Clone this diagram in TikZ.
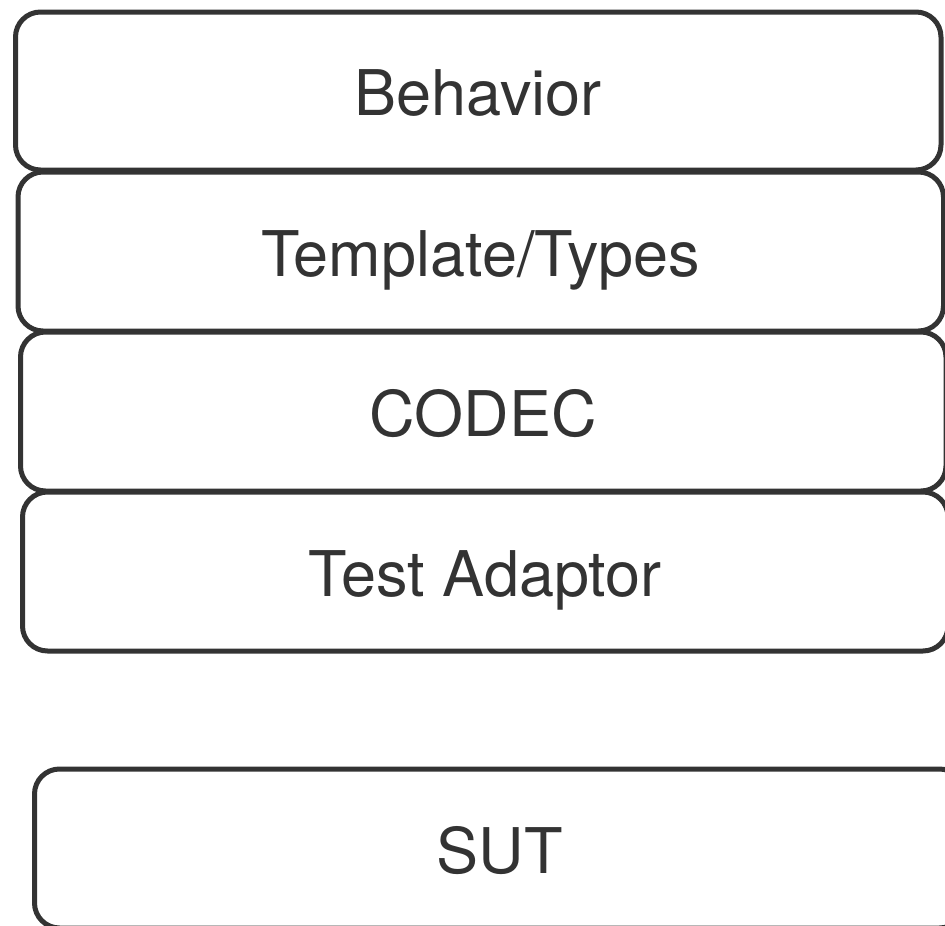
\documentclass[tikz,border=0pt]{standalone}
\usepackage{fontspec}
\setmainfont{TeX Gyre Heros}
\definecolor{ink}{HTML}{333333}
\begin{document}
\begin{tikzpicture}[x=1pt,y=-1pt,
  layer/.style={draw=ink, line width=5pt, rounded corners=25pt, rectangle,
    inner sep=0pt, text=ink, font=\fontsize{63}{75}\selectfont,
    text height=49pt, text depth=0pt}]
  \useasboundingbox (0,0) rectangle (945,926);
  \clip (0,0) rectangle (945,926);
  % stacked protocol layers
  \node[layer, minimum width=925.5pt, minimum height=158pt] (behavior) at (478.25,91) {Behavior};
  \node[layer, minimum width=925.5pt, minimum height=159pt] (types) at (480.75,251.5) {Template/Types};
  \node[layer, minimum width=925.5pt, minimum height=159pt] (codec) at (483.25,411.5) {CODEC};
  \node[layer, minimum width=925.5pt, minimum height=159pt] (adaptor) at (485.25,571.5) {Test Adaptor};
  % system under test
  \node[layer, minimum width=930pt, minimum height=159pt] (sut) at (499.5,848.5) {SUT};
\end{tikzpicture}
\end{document}
